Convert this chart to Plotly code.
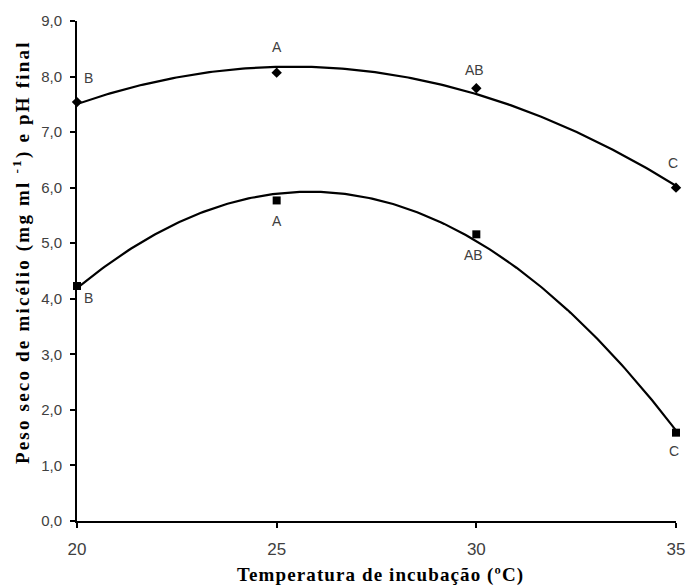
import numpy as np
import plotly.graph_objects as go

temperature = [20, 25, 30, 35]
ph_final = [7.54, 8.07, 7.79, 6.00]
dry_weight = [4.23, 5.77, 5.16, 1.59]
ph_letters = ["B", "A", "AB", "C"]
weight_letters = ["B", "A", "AB", "C"]
y_ticks = [0, 1, 2, 3, 4, 5, 6, 7, 8, 9]
y_tick_labels = ["0,0", "1,0", "2,0", "3,0", "4,0", "5,0", "6,0", "7,0", "8,0", "9,0"]
x_ticks = [20, 25, 30, 35]
x_title = "Temperatura de incubação (ºC)"
y_title = "Peso seco de micélio (mg ml <sup>-1</sup>) e pH final"

# label offsets (pixels)
ph_offsets = [(11, 24), (0, 26), (-2, 18), (-3, 25)]
weight_offsets = [(11, -12), (0, -21), (-3, -21), (-2, -18)]

xs = np.linspace(20, 35, 200)
fig = go.Figure()
for yv, sym, size in [(ph_final, "diamond", 8), (dry_weight, "square", 8)]:
    coef = np.polyfit(temperature, yv, 2)
    fig.add_trace(go.Scatter(x=xs, y=np.polyval(coef, xs), mode="lines",
                             line=dict(color="black", width=2.2), showlegend=False, hoverinfo="skip"))
    fig.add_trace(go.Scatter(x=temperature, y=yv, mode="markers",
                             marker=dict(symbol=sym, size=size, color="black"),
                             showlegend=False, cliponaxis=False))

for yv, labels, offs in [(ph_final, ph_letters, ph_offsets), (dry_weight, weight_letters, weight_offsets)]:
    for xv, v, lab, (dx, dy) in zip(temperature, yv, labels, offs):
        fig.add_annotation(x=xv, y=v, text=lab, showarrow=False, xshift=dx, yshift=dy,
                           font=dict(family="Liberation Sans, Arial", size=14, color="#404040"))

title_font = dict(family="Liberation Serif, Times New Roman", size=19, color="black")
fig.add_annotation(xref="paper", yref="paper", x=0.5075, y=-0.107, text="<b>" + x_title + "</b>",
                   showarrow=False, xanchor="center", yanchor="middle", font=title_font)
fig.add_annotation(xref="paper", yref="paper", x=-0.092, y=0.538, text="<b>" + y_title + "</b>",
                   showarrow=False, xanchor="center", yanchor="middle", textangle=-90, font=title_font)

fig.update_layout(
    width=699, height=585,
    margin=dict(l=77, r=23, t=17, b=64),
    paper_bgcolor="white", plot_bgcolor="white",
    font=dict(family="Liberation Sans, Arial", size=14, color="#404040"),
    xaxis=dict(range=[20, 35], tickvals=x_ticks, ticktext=[str(t) for t in x_ticks],
               showgrid=False, zeroline=False, showline=True, linecolor="black", linewidth=2,
               ticks="outside", ticklen=5, tickwidth=2, tickcolor="black",
               tickfont=dict(family="Liberation Sans, Arial", size=17, color="#404040"),
               ticklabelstandoff=7, fixedrange=True),
    yaxis=dict(range=[0, 9], tickvals=y_ticks, ticktext=y_tick_labels,
               showgrid=False, zeroline=False, showline=True, linecolor="black", linewidth=2,
               ticks="outside", ticklen=5, tickwidth=2, tickcolor="black",
               tickfont=dict(size=15, color="#404040"), ticklabelstandoff=5,
               fixedrange=True),
)

post = """
document.body.style.margin = '0';
function spaceTitles() {
  document.querySelectorAll('text').forEach(function (t) {
    var s = t.textContent || '';
    if (s.indexOf('Peso seco') === 0) t.style.letterSpacing = '2.2px';
    if (s.indexOf('Temperatura') === 0) t.style.letterSpacing = '1.1px';
  });
}
spaceTitles();
setTimeout(spaceTitles, 0);
setTimeout(spaceTitles, 300);
"""
fig.write_html("out.html", post_script=post, config={"displayModeBar": False})
